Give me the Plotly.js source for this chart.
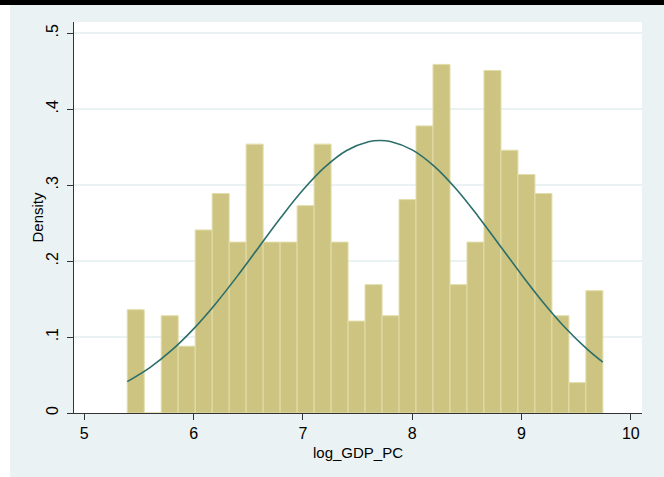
<!DOCTYPE html>
<html>
<head>
<meta charset="utf-8">
<script src="https://cdn.plot.ly/plotly-3.0.1.min.js"></script>
<style>
  html, body { margin: 0; padding: 0; background: #ffffff; width: 664px; height: 477px; overflow: hidden; }
  #topbar { position: absolute; left: 0; top: 0; width: 664px; height: 5px; background: #000000; }
  #chart { position: absolute; left: 10px; top: 5px; width: 654px; height: 472px; }
</style>
</head>
<body>
<div id="topbar"></div>
<div id="chart"></div>
<script>
// Histogram of log GDP per capita: 28 equal-width bins
const binStart = 5.393;
const binWidth = 0.1554;
const density = [
  0.136, 0.000, 0.128, 0.088, 0.241, 0.289, 0.225, 0.354, 0.225, 0.225,
  0.273, 0.354, 0.225, 0.121, 0.169, 0.128, 0.281, 0.378, 0.459, 0.169,
  0.225, 0.451, 0.346, 0.314, 0.289, 0.128, 0.040, 0.161
];

// Normal density overlay
const normalX = [5.393, 5.6, 5.8, 6.0, 6.2, 6.4, 6.6, 6.8, 7.0, 7.2, 7.4, 7.6, 7.705,
                 7.8, 8.0, 8.2, 8.4, 8.6, 8.8, 9.0, 9.2, 9.4, 9.6, 9.743];
const normalY = [0.0413, 0.0598, 0.0827, 0.1108, 0.1436, 0.1802, 0.2190, 0.2577, 0.2935,
                 0.3236, 0.3456, 0.3572, 0.3588, 0.3575, 0.3464, 0.3250, 0.2952, 0.2595,
                 0.2209, 0.1821, 0.1453, 0.1123, 0.0840, 0.0669];

// Axis ticks
const xTicks = [5, 6, 7, 8, 9, 10];
const yTicks = [0, 0.1, 0.2, 0.3, 0.4, 0.5];
const yTickText = ['0', '.1', '.2', '.3', '.4', '.5'];

const binCenters = density.map((_, i) => binStart + (i + 0.5) * binWidth);

const bars = {
  type: 'bar',
  x: binCenters,
  y: density,
  width: binWidth,
  marker: { color: '#CCC480', line: { color: '#E2DDAA', width: 1 } },
  hoverinfo: 'x+y',
  showlegend: false
};

const curve = {
  type: 'scatter',
  mode: 'lines',
  x: normalX,
  y: normalY,
  line: { color: '#2B6E6A', width: 1.6, shape: 'spline' },
  showlegend: false
};

const font = { family: '"Liberation Sans", Arial, Helvetica, sans-serif', color: '#000000' };

const layout = {
  width: 654,
  height: 472,
  margin: { l: 64, r: 22, t: 17, b: 64 },
  paper_bgcolor: '#EAF2F3',
  plot_bgcolor: '#FFFFFF',
  font: font,
  bargap: 0,
  xaxis: {
    range: [4.906, 10.102],
    tickvals: xTicks,
    ticktext: xTicks.map(String),
    ticks: 'outside',
    ticklen: 6,
    tickwidth: 1,
    tickcolor: '#333333',
    showline: true,
    linecolor: '#333333',
    linewidth: 1,
    showgrid: false,
    zeroline: false,
    tickfont: { size: 16 },
    title: { text: 'log_GDP_PC', font: { size: 15 }, standoff: 6 }
  },
  yaxis: {
    range: [0, 0.5148],
    tickvals: yTicks,
    ticktext: yTickText,
    tickangle: -90,
    ticks: 'outside',
    ticklen: 6,
    tickwidth: 1,
    tickcolor: '#333333',
    showline: true,
    linecolor: '#333333',
    linewidth: 1,
    showgrid: true,
    gridcolor: '#EAF2F3',
    gridwidth: 1.5,
    zeroline: false,
    tickfont: { size: 16 },
    ticklabelstandoff: 3
  },
  // y-axis title placed just left of the rotated tick labels
  annotations: [{
    text: 'Density',
    xref: 'paper', yref: 'paper',
    x: 0, y: 0.5,
    xanchor: 'center', yanchor: 'middle',
    xshift: -37,
    textangle: -90,
    showarrow: false,
    font: { size: 15 }
  }]
};

Plotly.newPlot('chart', [bars, curve], layout, { displayModeBar: false, staticPlot: true });
</script>
</body>
</html>
